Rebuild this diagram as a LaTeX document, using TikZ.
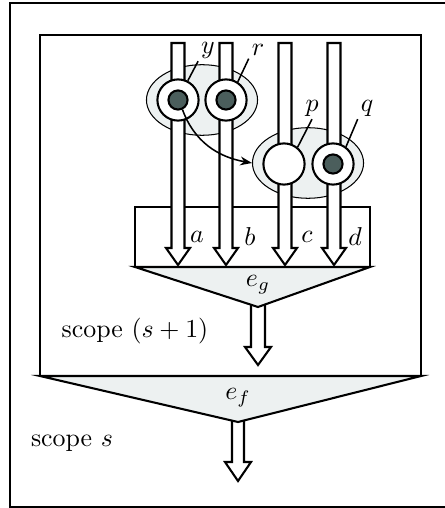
\documentclass[tikz,border=0pt]{standalone}
\usepackage{tikz}
\usetikzlibrary{arrows.meta,positioning,calc,shapes.geometric}

\definecolor{lightgrey}{HTML}{EDF1F1}
\definecolor{darkgrey}{HTML}{4B5E5C}

\begin{document}
\begin{tikzpicture}[
    x=0.0136cm, y=-0.0136cm,
    frame/.style={draw, thick},
    pipe/.style={draw, thick, fill=white, line join=miter},
    funnel/.style={draw, thick, fill=lightgrey},
    group/.style={ellipse, draw, fill=lightgrey, minimum width=1.51cm, minimum height=0.96cm, inner sep=0pt},
    ring/.style={circle, draw, thick, fill=white, minimum size=0.56cm, inner sep=0pt},
    dot/.style={circle, draw, thick, fill=darkgrey, minimum size=0.26cm, inner sep=0pt},
    lab/.style={inner sep=1pt},
    leader/.style={semithick},
    arrow/.style={-{Stealth[length=1.6mm]}, semithick}
]
\useasboundingbox (0,0) rectangle (444,508);

% outer scope s
\draw[frame] (10,3) rectangle (460,507);

% inner scope s+1 with its funnel e_f
\draw[frame] (40,376) -- (40,35) -- (421,35) -- (421,376);
\draw[pipe] (232,410) -- (232,462) -- (225,462) -- (238,481) -- (251,462) -- (244,462) -- (244,410);
\draw[funnel] (40,376) -- (421,376) -- (238,422) -- cycle;
\node (ef) at (238,398) {$e_f$};
\node (scope-s) at (72,443) {scope $s$};

% block e_g
\draw[frame] (135,267) rectangle (370,207);
\draw[pipe] (251,295) -- (251,347) -- (245,347) -- (258,365) -- (271,347) -- (265,347) -- (265,295);
\draw[funnel] (135,267) -- (370,267) -- (258,307) -- cycle;
\node (eg) at (258,285) {$e_g$};
\node (scope-s1) at (135,331) {scope $(s+1)$};

% groups
\node[group] (yr) at (202,100) {};
\node[group] (pq) at (308,163) {};

% pipes
\foreach \x/\lab/\dx in {178/a/19, 226/b/24, 285/c/22, 334/d/21} {
    \draw[pipe] ({\x-6.5},43) -- ({\x-6.5},248) -- ({\x-12},248) -- (\x,265)
        -- ({\x+12},248) -- ({\x+6.5},248) -- ({\x+6.5},43) -- cycle;
    \node[lab] (pipe-\lab) at ({\x+\dx},237) {$\lab$};
}

% variables
\node[ring] (ycirc) at (178,100) {};
\node[dot] (ydot) at (ycirc.center) {};
\node[ring] (rcirc) at (226,100) {};
\node[dot] (rdot) at (rcirc.center) {};
\node[ring] (pcirc) at (284,164) {};
\node[ring] (qcirc) at (333,164) {};
\node[dot] (qdot) at (qcirc.center) {};

\node[lab] (ylab) at (208,50) {$y$};
\node[lab] (rlab) at (258,50) {$r$};
\node[lab] (plab) at (312,108) {$p$};
\node[lab] (qlab) at (367,108) {$q$};

\draw[leader] (ylab.south west) -- (ycirc.63);
\draw[leader] (rlab.south west) -- (rcirc.57);
\draw[leader] (plab.south) -- (pcirc.51);
\draw[leader] (qlab.south west) -- (qcirc.53);

\draw[arrow] (ydot.-65) to[out=-70, in=170] (pq.west);
\end{tikzpicture}
\end{document}
